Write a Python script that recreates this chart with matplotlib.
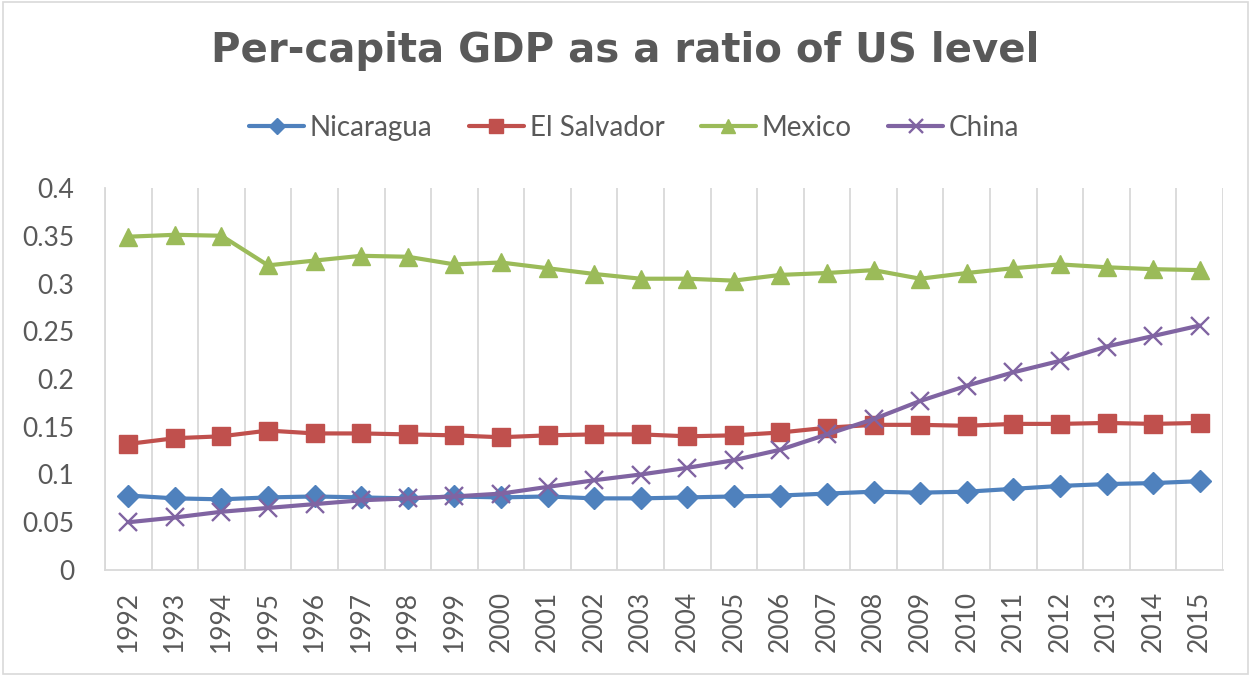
import matplotlib
matplotlib.use("Agg")
import matplotlib.pyplot as plt
from matplotlib.patches import Rectangle
import numpy as np

years = [str(y) for y in range(1992, 2016)]
nicaragua = [0.078, 0.075, 0.074, 0.076, 0.077, 0.076, 0.075, 0.077, 0.076, 0.077, 0.075, 0.075,
             0.076, 0.077, 0.078, 0.080, 0.082, 0.081, 0.082, 0.085, 0.088, 0.090, 0.091, 0.093]
el_salvador = [0.132, 0.138, 0.140, 0.146, 0.143, 0.143, 0.142, 0.141, 0.139, 0.141, 0.142, 0.142,
               0.140, 0.141, 0.144, 0.149, 0.152, 0.152, 0.151, 0.153, 0.153, 0.154, 0.153, 0.154]
mexico = [0.349, 0.351, 0.350, 0.319, 0.324, 0.329, 0.328, 0.320, 0.322, 0.316, 0.310, 0.305,
          0.305, 0.303, 0.309, 0.311, 0.314, 0.305, 0.311, 0.316, 0.320, 0.317, 0.315, 0.314]
china = [0.050, 0.055, 0.061, 0.065, 0.069, 0.073, 0.075, 0.077, 0.080, 0.087, 0.094, 0.100,
         0.107, 0.115, 0.126, 0.142, 0.158, 0.177, 0.193, 0.207, 0.219, 0.234, 0.245, 0.256]
series_names = ["Nicaragua", "El Salvador", "Mexico", "China"]
y_ticks = [0, 0.05, 0.1, 0.15, 0.2, 0.25, 0.3, 0.35, 0.4]
y_tick_labels = ["0", "0.05", "0.1", "0.15", "0.2", "0.25", "0.3", "0.35", "0.4"]

FONT = ["Lato", "DejaVu Sans"]
plt.rcParams['font.family'] = FONT
TXT = "#595959"

fig = plt.figure(figsize=(12.51, 6.75), dpi=100)
fig.patches.append(Rectangle((0.002, 0.002), 0.996, 0.995, transform=fig.transFigure,
                             fill=False, edgecolor="#d9d9d9", linewidth=1.2))
ax = fig.add_axes([105/1251, 105/675, (1223-105)/1251, (570-188)/675])

x = np.arange(len(years))
styles = [
    (nicaragua, "#4F81BD", "D", 11.5, 1),
    (el_salvador, "#C0504D", "s", 12.5, 1),
    (mexico, "#9BBB59", "^", 13.5, 1),
    (china, "#8064A2", "x", 13, 1.7),
]
for (vals, col, mk, ms, mew), name in zip(styles, series_names):
    ax.plot(x, vals, color=col, linewidth=3, marker=mk, markersize=ms,
            markeredgewidth=mew, markeredgecolor=col, markerfacecolor=col,
            label=name, solid_capstyle="round", zorder=3)

ax.set_xlim(-0.5, len(years) - 0.5)
ax.set_ylim(0, 0.4)
ax.set_xticks(x)
ax.set_xticklabels(years, rotation=90, fontsize=19, color=TXT)
ax.set_xticks(np.arange(len(years) + 1) - 0.5, minor=True)
ax.tick_params(axis='x', which='both', length=0, pad=15)
ax.grid(True, which='minor', axis='x', color="#d9d9d9", linewidth=1.3)
ax.set_yticks(y_ticks)
ax.set_yticklabels(y_tick_labels, fontsize=19, color=TXT)
ax.tick_params(axis='y', length=0, pad=22)
for s in ["top", "right"]:
    ax.spines[s].set_visible(False)
for s in ["left", "bottom"]:
    ax.spines[s].set_color("#d9d9d9")
    ax.spines[s].set_linewidth(1.3)

fig.text(0.5, 1 - 51/675, "Per-capita GDP as a ratio of US level", ha="center", va="center",
         fontsize=29, fontweight="bold", color=TXT, family=["DejaVu Sans"])

leg = fig.legend(loc="center", bbox_to_anchor=(634/1251, 1 - 128/675), ncol=4, frameon=False,
                 fontsize=20, handlelength=2.0, handletextpad=0.2, columnspacing=1.3,
                 markerscale=0.75)
for t in leg.get_texts():
    t.set_color(TXT)

fig.savefig("out.png", dpi=100)
